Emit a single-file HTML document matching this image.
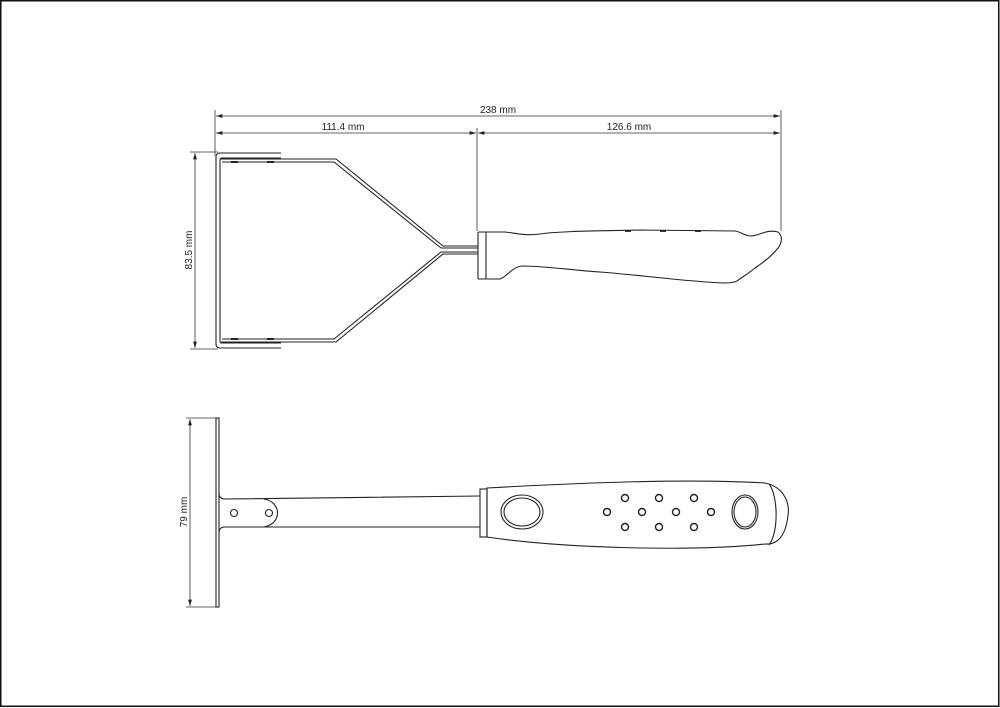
<!DOCTYPE html>
<html><head><meta charset="utf-8"><style>
html,body{margin:0;padding:0;background:#fff;}
svg{display:block}
text{font-family:"Liberation Sans",Arial,sans-serif;font-size:10px;fill:#222}
</style></head><body>
<svg width="1000" height="708" viewBox="0 0 1000 708" xmlns="http://www.w3.org/2000/svg">
<defs>
<marker id="a" viewBox="0 0 10 6" refX="10" refY="3" markerWidth="8" markerHeight="5" orient="auto-start-reverse"><path d="M0,0 L10,3 L0,6 z" fill="#222"/></marker>
</defs>
<rect x="0.75" y="0.75" width="998" height="705.5" fill="none" stroke="#111" stroke-width="1.5"/>
<g stroke="#333" stroke-width="0.8" fill="none">
<line x1="215" y1="110" x2="215" y2="156"/>
<line x1="477" y1="128" x2="477" y2="231"/>
<line x1="781" y1="110" x2="781" y2="231"/>
<line x1="216" y1="116" x2="780" y2="116" marker-start="url(#a)" marker-end="url(#a)"/>
<line x1="216" y1="133" x2="476" y2="133" marker-start="url(#a)" marker-end="url(#a)"/>
<line x1="478" y1="133" x2="780" y2="133" marker-start="url(#a)" marker-end="url(#a)"/>
<line x1="190" y1="152" x2="218" y2="152"/>
<line x1="190" y1="349" x2="218" y2="349"/>
<line x1="195" y1="153" x2="195" y2="348" marker-start="url(#a)" marker-end="url(#a)"/>
<line x1="186" y1="418" x2="216" y2="418"/>
<line x1="186" y1="607" x2="216" y2="607"/>
<line x1="190" y1="419" x2="190" y2="606" marker-start="url(#a)" marker-end="url(#a)"/>
</g>
<text x="498" y="113" text-anchor="middle">238 mm</text>
<text x="343" y="130" text-anchor="middle">111.4 mm</text>
<text x="629" y="130" text-anchor="middle">126.6 mm</text>
<text transform="translate(192,250) rotate(-90)" text-anchor="middle">83.5 mm</text>
<text transform="translate(187,512) rotate(-90)" text-anchor="middle">79 mm</text>
<g stroke="#222" stroke-width="1.1" fill="none">
<path d="M281,153 L220,153 Q216,153 216,157 L216,344 Q216,348 220,348 L281,348"/>
<path d="M281,158 L222,158 Q220,158 220,160 L220,341 Q220,343 222,343 L281,343"/>
<path d="M221,159 L336,159 L443,246 L478,246"/>
<path d="M222,162 L334,162 L441,248"/>
<path d="M221,342 L336,342 L443,254 L478,254"/>
<path d="M222,339 L334,339 L441,252"/>
<path d="M441,248 L478,248 M441,252 L478,252"/>
<line x1="231" y1="162" x2="238" y2="162" stroke-width="2"/>
<line x1="267" y1="162" x2="274" y2="162" stroke-width="2"/>
<line x1="231" y1="339" x2="238" y2="339" stroke-width="2"/>
<line x1="267" y1="339" x2="274" y2="339" stroke-width="2"/>
<rect x="478" y="232" width="8" height="47" rx="1"/>
<path d="M486,232 L505,232 C515,233 525,236 540,234 C560,231 600,231 640,230 L735,231 C742,232 744,236 752,236 C760,235 768,229 778,232 C783,236 782,243 778,248 C772,256 764,262 755,268 C748,274 742,277 737,281 C733,283 728,283 725,283 C690,282 640,275 600,272 C570,270 545,266 522,266 C512,267 508,276 500,279 L486,279"/>
<line x1="625" y1="231" x2="631" y2="231" stroke-width="1.8"/>
<line x1="660" y1="231" x2="666" y2="231" stroke-width="1.8"/>
<line x1="695" y1="231" x2="701" y2="231" stroke-width="1.8"/>
<!-- side view -->
<rect x="216" y="418" width="3" height="189"/>
<path d="M219,493 Q219,499 225,499 L480,496"/>
<path d="M219,533 Q219,527 225,527 L480,527"/>
<path d="M264,499 C282,502 282,524 264,527"/>
<circle cx="234" cy="513" r="3.5"/>
<circle cx="269" cy="513" r="3.5"/>
<rect x="480" y="489" width="7" height="48"/>
<path d="M487,488 C560,484 680,478 765,483 C785,487 790,505 788,515 C786,535 778,545 765,544 C690,552 560,548 487,537 Z"/>
<path d="M769,484 C778,495 779,532 769,545"/>
<ellipse cx="522" cy="512" rx="21" ry="17"/>
<ellipse cx="522" cy="512" rx="18" ry="14"/>
<ellipse cx="745" cy="512" rx="13" ry="17"/>
<ellipse cx="745" cy="512" rx="11" ry="15"/>
<g stroke-width="1.4">
<circle cx="625" cy="498" r="3.5"/><circle cx="659" cy="498" r="3.5"/><circle cx="694" cy="498" r="3.5"/>
<circle cx="607" cy="512" r="3.5"/><circle cx="642" cy="512" r="3.5"/><circle cx="676" cy="512" r="3.5"/><circle cx="711" cy="512" r="3.5"/>
<circle cx="625" cy="527" r="3.5"/><circle cx="659" cy="527" r="3.5"/><circle cx="694" cy="527" r="3.5"/>
</g>
</g>
</svg>
</body></html>
